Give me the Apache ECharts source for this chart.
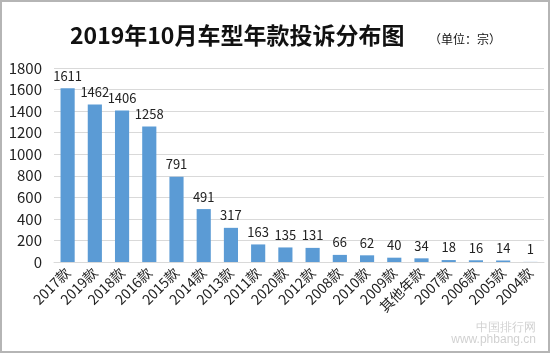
<!DOCTYPE html>
<html><head><meta charset="utf-8">
<script src="https://cdn.jsdelivr.net/npm/echarts@6/dist/echarts.min.js"></script>
<style>html,body{margin:0;padding:0;background:#fff}#c{width:550px;height:353px;box-sizing:border-box;border:2px solid #b5b5b5}</style>
</head><body><div id="c"></div>
<script>
var categories = ['2017款','2019款','2018款','2016款','2015款','2014款','2013款','2011款','2020款','2012款','2008款','2010款','2009款','其他年款','2007款','2006款','2005款','2004款'];
var values = [1611,1462,1406,1258,791,491,317,163,135,131,66,62,40,34,18,16,14,1];
var yTicks = [0,200,400,600,800,1000,1200,1400,1600,1800];
var titleText = '2019年10月车型年款投诉分布图';
var unitText = '（单位：宗）';
var chart = echarts.init(document.getElementById('c'));
var ff = '"Noto Sans CJK SC","Noto Sans",sans-serif';
chart.setOption({
  animation:false,
  title:[{text:titleText,left:63,top:17,textStyle:{fontSize:23,fontWeight:'bold',color:'#111',fontFamily:ff}},
         {text:unitText,left:422,top:26,textStyle:{fontSize:12,fontWeight:'normal',color:'#111',fontFamily:ff}}],
  graphic:[{type:'text',right:12,bottom:5,style:{text:'中国排行网\nwww.phbang.cn',fill:'rgba(120,120,120,0.35)',font:'12px sans-serif',textAlign:'right'}}],
  grid:{left:52,right:4,top:66,bottom:89},
  xAxis:{type:'category',data:categories,
    axisLine:{lineStyle:{color:'#d9d9d9'}},axisTick:{show:false},
    axisLabel:{rotate:45,interval:0,fontSize:14,color:'#222',fontFamily:ff,margin:8}},
  yAxis:{type:'value',min:yTicks[0],max:yTicks[yTicks.length-1],interval:200,
    axisLine:{show:false},axisTick:{show:false},
    splitLine:{lineStyle:{color:'#d9d9d9'}},
    axisLabel:{fontSize:15,color:'#222',fontFamily:ff,margin:12,formatter:function(v){return String(v);}}},
  series:[{type:'bar',data:values,barWidth:'52%',itemStyle:{color:'#5b9bd5'},
    label:{show:true,position:'top',fontSize:13,color:'#222',fontFamily:ff,distance:6}}]
});
</script></body></html>
